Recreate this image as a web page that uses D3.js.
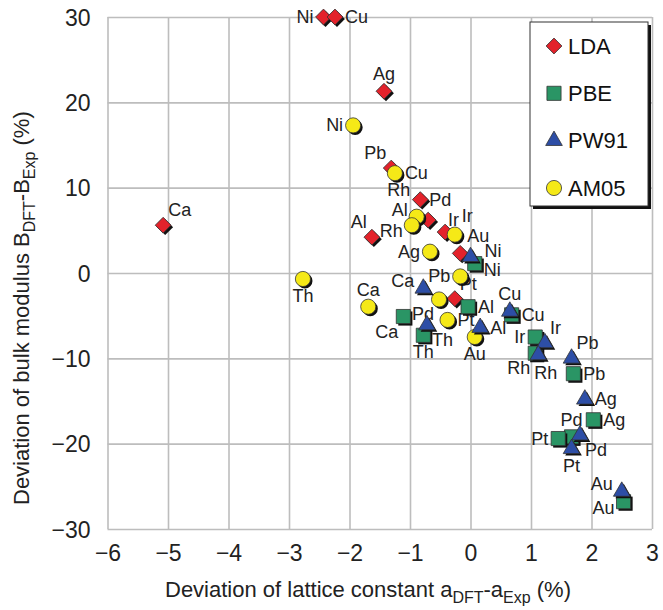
<!DOCTYPE html>
<html><head><meta charset="utf-8">
<script src="https://cdn.jsdelivr.net/npm/d3@7"></script>
<style>
body{margin:0;background:#fff;}
svg{display:block;font-family:"Liberation Sans",Arial,Helvetica,sans-serif;}
</style></head>
<body><svg id="c" width="663" height="610"></svg>
<script>
// ---- data ----
const xTicks = [-6,-5,-4,-3,-2,-1,0,1,2,3];
const yTicks = [-30,-20,-10,0,10,20,30];
const seriesNames = ["LDA","PBE","PW91","AM05"];

const ldaEl = ["Ni","Cu","Ag","Ca","Pb","Rh","Pd","Al","Ir","Au","Pt"];
const ldaX  = [-2.43,-2.24,-1.43,-5.08,-1.31,-0.83,-0.70,-1.63,-0.42,-0.17,-0.26];
const ldaY  = [30.0,30.0,21.3,5.6,12.3,8.6,6.2,4.2,4.8,2.3,-3.0];
const ldaLab= ["L","R","T","TR","TL","LU2","TR2","TL","TR4","TR3","TR"];

const pbeEl = ["Ni","Ca","Th","Al","Cu","Ir","Rh","Pb","Ag","Pd","Pt","Au"];
const pbeX  = [0.07,-1.11,-0.78,-0.04,0.68,1.07,1.07,1.70,2.03,1.67,1.45,2.53];
const pbeY  = [1.1,-5.1,-7.3,-3.95,-4.9,-7.5,-9.4,-11.8,-17.2,-19.2,-19.4,-26.8];
const pbeLab= ["RD","BL","B","R","R","L","BL","R","R","T","L","LD"];

const pw91El = ["Ni","Ca","Th","Al","Cu","Ir","Rh","Pb","Ag","Pd","Pt","Au"];
const pw91X  = [0.0,-0.78,-0.72,0.16,0.65,1.23,1.12,1.67,1.89,1.81,1.67,2.50];
const pw91Y  = [1.9,-1.8,-6.1,-6.4,-4.5,-8.2,-9.6,-10.0,-14.8,-19.0,-20.6,-25.6];
const pw91Lab= ["RU","LU","BR","R","T","TR","BS","TR","R","BR","B","LU"];

const am05El = ["Ni","Cu","Al","Rh","Ir","Ag","Pb","Th","Ca","Pd","Pt","Au"];
const am05X  = [-1.94,-1.25,-0.89,-0.97,-0.26,-0.67,-0.17,-2.77,-1.69,-0.52,-0.38,0.07];
const am05Y  = [17.3,11.7,6.6,5.6,4.5,2.5,-0.4,-0.7,-3.95,-3.1,-5.5,-7.5];
const am05Lab= ["L","R","LU","LD","TR5","L","L","B","T","BL","R","B"];

// ---- layout ----
const svg = d3.select("#c");
const L = 107.5, R = 652, T = 17, B = 529;
const x = d3.scaleLinear().domain([-6,3]).range([L,R]);
const y = d3.scaleLinear().domain([-30,30]).range([B,T]);

const colors = {LDA:"#e3222b", PBE:"#2a9565", PW91:"#2d4ea6", AM05:"#f5e917"};
const shapes = {LDA:"diamond", PBE:"square", PW91:"triangle", AM05:"circle"};

function shapePath(kind){
  if(kind==="diamond") return d3.symbol(d3.symbolSquare, 125)();
  if(kind==="square") return d3.symbol(d3.symbolSquare, 200)();
  if(kind==="triangle") return d3.symbol(d3.symbolTriangle, 120)();
  return d3.symbol(d3.symbolCircle, 180)();
}
function rot(kind){ return kind==="diamond" ? " rotate(45)" : ""; }

// grid via axes
const gx = svg.append("g").attr("transform",`translate(0,${B})`)
  .call(d3.axisBottom(x).tickValues(xTicks).tickSize(-(B-T)).tickPadding(16).tickFormat(d3.format("d")));
const gy = svg.append("g").attr("transform",`translate(${L},0)`)
  .call(d3.axisLeft(y).tickValues(yTicks).tickSize(-(R-L)).tickPadding(17).tickFormat(d3.format("d")));
[gx,gy].forEach(g=>{
  g.select(".domain").remove();
  g.selectAll(".tick line").attr("stroke","#bdbdbd").attr("stroke-width",1.6);
  g.selectAll(".tick text").attr("fill","#222").style("font-size","23px");
});
gy.selectAll(".tick text").attr("dy","0.35em");

// axis titles
const xt = svg.append("text").attr("x",165).attr("y",597).attr("text-anchor","start")
  .attr("fill","#222").style("font-size","22px");
xt.append("tspan").text("Deviation of lattice constant a");
xt.append("tspan").attr("dy",6).style("font-size","16px").text("DFT");
xt.append("tspan").attr("dy",-6).text("-a");
xt.append("tspan").attr("dy",6).style("font-size","16px").text("Exp");
xt.append("tspan").attr("dy",-6).text(" (%)");

const yt = svg.append("text").attr("transform",`translate(29,505) rotate(-90)`)
  .attr("text-anchor","start").attr("fill","#222").style("font-size","22px");
yt.append("tspan").text("Deviation of bulk modulus B");
yt.append("tspan").attr("dy",6).style("font-size","16px").text("DFT");
yt.append("tspan").attr("dy",-6).text("-B");
yt.append("tspan").attr("dy",6).style("font-size","16px").text("Exp");
yt.append("tspan").attr("dy",-6).text(" (%)");

// label offsets by side code
const off = {
  L:[-10,0,"end"], LU:[-9,-7,"end"], LU2:[-10,-10,"end"], LD:[-9,6,"end"],
  R:[10,0,"start"], RU:[14,-6,"start"], RD:[9,6,"start"],
  T:[0,-17,"middle"], B:[0,17,"middle"], BS:[-4,18,"start"],
  TL:[-5,-15,"end"], TR:[5,-15,"start"], TR2:[1,-20,"start"], TR3:[7,-17,"start"],
  TR4:[3,-12,"start"], TR5:[7,-19,"start"],
  BL:[-5,15,"end"], BR:[5,15,"start"]
};

function series(name, els, xs, ys, labs){
  return els.map((e,i)=>({name, el:e, x:xs[i], y:ys[i], lab:labs[i]}));
}
const all = {
  LDA: series("LDA", ldaEl, ldaX, ldaY, ldaLab),
  PBE: series("PBE", pbeEl, pbeX, pbeY, pbeLab),
  PW91: series("PW91", pw91El, pw91X, pw91Y, pw91Lab),
  AM05: series("AM05", am05El, am05X, am05Y, am05Lab)
};
const drawOrder = ["LDA","AM05","PBE","PW91"];

// labels
const labG = svg.append("g");
drawOrder.forEach(n=>{
  labG.selectAll(null).data(all[n]).enter().append("text")
    .attr("x",d=>x(d.x)+off[d.lab][0])
    .attr("y",d=>y(d.y)+off[d.lab][1])
    .attr("text-anchor",d=>off[d.lab][2])
    .attr("dominant-baseline","central")
    .attr("fill","#222").style("font-size","18px")
    .text(d=>d.el);
});

// markers
const mG = svg.append("g");
drawOrder.forEach(n=>{
  const p = shapePath(shapes[n]);
  const g = mG.selectAll(null).data(all[n]).enter().append("g")
    .attr("transform",d=>`translate(${x(d.x)},${y(d.y)})`);
  g.append("path").attr("d",p).attr("transform","translate(2,2)"+rot(shapes[n])).attr("fill","#111");
  g.append("path").attr("d",p).attr("transform",rot(shapes[n]).trim()||null)
    .attr("fill",colors[n]).attr("stroke","#333").attr("stroke-width",0.8);
});

// legend
const lg = svg.append("g");
lg.append("rect").attr("x",533).attr("y",25).attr("width",118).attr("height",184).attr("fill","#111");
lg.append("rect").attr("x",530).attr("y",22).attr("width",118).attr("height",184)
  .attr("fill","#fff").attr("stroke","#333").attr("stroke-width",1);
const ly = d3.scalePoint().domain(seriesNames).range([46,188]);
seriesNames.forEach(n=>{
  lg.append("path").attr("d",shapePath(shapes[n]))
    .attr("transform",`translate(554,${ly(n)})`+rot(shapes[n]))
    .attr("fill",colors[n]).attr("stroke","#333").attr("stroke-width",0.8);
  lg.append("text").attr("x",568).attr("y",ly(n)).attr("dominant-baseline","central")
    .attr("fill","#111").style("font-size","22px").text(n);
});
</script></body></html>
